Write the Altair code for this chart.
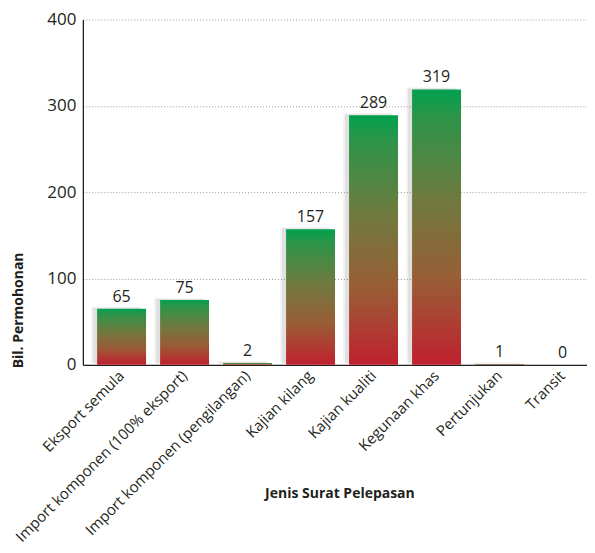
import altair as alt
import pandas as pd

categories = ["Eksport semula", "Import komponen (100% eksport)", "Import komponen (pengilangan)",
              "Kajian kilang", "Kajian kualiti", "Kegunaan khas", "Pertunjukan", "Transit"]
values = [65, 75, 2, 157, 289, 319, 1, 0]

df = pd.DataFrame({"cat": categories, "val": values})
FONT = "Open Sans"
TXT = "#231f20"

x = alt.X("cat:N", sort=categories,
          scale=alt.Scale(paddingInner=0.223, paddingOuter=0.113, align=1),
          axis=alt.Axis(title="Jenis Surat Pelepasan", labelAngle=-45, labelAlign="right",
                        labelBaseline="middle", labelFontSize=15, labelFont=FONT, labelColor=TXT,
                        labelPadding=8, ticks=False, domainColor="#231f20", domainWidth=1.3,
                        titleFont=FONT, titleFontSize=14, titleFontWeight="bold", titleColor=TXT,
                        titleX=257, titleY=129, titleAlign="center", titleBaseline="middle",
                        labelLimit=400))
y = alt.Y("val:Q", scale=alt.Scale(domain=[0, 400]),
          axis=alt.Axis(title="Bil. Permohonan", values=[0, 100, 200, 300, 400], ticks=False,
                        labelFontSize=17, labelFont=FONT, labelColor=TXT, labelPadding=7,
                        domainColor="#231f20", domainWidth=1.3,
                        grid=True, gridColor="#9a9a9a", gridDash=[1, 2], gridWidth=1,
                        titleFont=FONT, titleFontSize=14, titleFontWeight="bold", titleColor=TXT,
                        titleAngle=-90, titleX=-64, titleY=349, titleAlign="left",
                        titleBaseline="middle"))

grad = alt.Gradient(gradient="linear", x1=0, x2=0, y1=0, y2=1,
                    stops=[alt.GradientStop(color="#00a14f", offset=0),
                           alt.GradientStop(color="#2c9449", offset=0.1),
                           alt.GradientStop(color="#6f7a3e", offset=0.4),
                           alt.GradientStop(color="#9a5c36", offset=0.7),
                           alt.GradientStop(color="#c0202f", offset=1)])

base = alt.Chart(df)
shadow = base.mark_bar(color="#000000", opacity=0.07, xOffset=-4, yOffset=-1).encode(x=x, y=y)
shadow2 = base.mark_bar(color="#000000", opacity=0.05, xOffset=-6, yOffset=-2).encode(x=x, y=y)
bars = base.mark_bar(color=grad).encode(x=x, y=y)
labels = base.mark_text(dy=-12, fontSize=16, font=FONT, color=TXT).encode(
    x=x, y=y, text="val:Q")

chart = (shadow2 + shadow + bars + labels).properties(
    width=505, height=346,
    autosize=alt.AutoSizeParams(type="none"),
    padding={"left": 75, "top": 11, "right": 0, "bottom": 180},
).configure_view(stroke=None).configure_axis(domain=True)

chart.save("out.html", embed_options={"renderer": "svg", "actions": False})
